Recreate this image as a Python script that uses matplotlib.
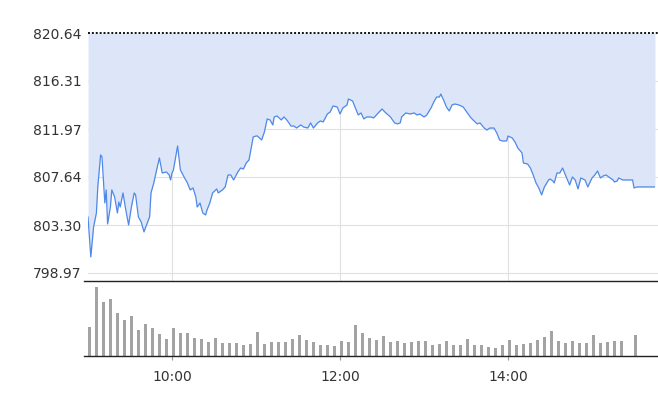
import matplotlib
matplotlib.use("Agg")
import matplotlib.pyplot as plt

# ---- data ----
# price line: minutes after 09:00 and index value
line_minutes = [0, 2, 4, 6, 7, 9, 10, 11, 12, 13, 14, 16, 17, 19, 21, 22, 23, 25, 27, 29,
                31, 33, 34, 36, 38, 40, 41, 44, 45, 47, 49, 51, 53, 56, 58, 59, 60, 61, 64, 66,
                69, 71, 73, 75, 77, 78, 80, 82, 84, 85, 87, 89, 92, 93, 96, 98, 100, 102, 104, 107,
                109, 111, 113, 115, 118, 120, 121, 124, 126, 128, 130, 132, 133, 135, 138, 140, 142, 145, 147, 149,
                152, 154, 157, 159, 161, 164, 166, 168, 171, 173, 175, 178, 180, 182, 185, 186, 189, 191, 193, 195,
                197, 199, 202, 204, 208, 210, 212, 216, 219, 221, 223, 224, 227, 230, 233, 235, 237, 240, 242, 245,
                247, 249, 251, 252, 254, 256, 258, 260, 262, 265, 268, 271, 273, 275, 278, 280, 283, 285, 287, 290,
                292, 294, 296, 299, 300, 303, 305, 307, 310, 311, 314, 316, 318, 320, 322, 324, 326, 329, 330, 332,
                333, 335, 337, 339, 341, 344, 346, 348, 350, 352, 355, 357, 360, 362, 364, 366, 368, 370, 373, 375,
                376, 378, 379, 382, 386, 389, 390, 392, 405]
line_values = [804.03, 800.42, 803.13, 804.39, 806.74, 809.63, 809.45, 807.37, 805.29, 806.47,
               803.40, 804.93, 806.47, 805.84, 804.39, 805.38, 804.93, 806.20, 804.66, 803.31,
               804.93, 806.20, 806.02, 804.03, 803.58, 802.68, 803.04, 804.03, 806.20, 807.10,
               808.27, 809.36, 808.00, 808.09, 807.82, 807.37, 808.00, 808.27, 810.44, 808.27,
               807.55, 807.10, 806.47, 806.65, 805.84, 804.93, 805.29, 804.39, 804.21, 804.66,
               805.29, 806.20, 806.56, 806.20, 806.47, 806.74, 807.82, 807.82, 807.37, 808.09,
               808.45, 808.36, 808.90, 809.18, 811.25, 811.34, 811.34, 810.98, 811.70, 812.88,
               812.79, 812.34, 813.06, 813.15, 812.79, 813.06, 812.79, 812.24, 812.24, 812.06,
               812.34, 812.15, 812.06, 812.52, 812.06, 812.52, 812.70, 812.61, 813.33, 813.51,
               814.05, 813.96, 813.33, 813.87, 814.14, 814.68, 814.50, 813.87, 813.24, 813.42,
               812.88, 813.06, 813.06, 812.97, 813.51, 813.78, 813.51, 813.06, 812.52, 812.43,
               812.52, 813.06, 813.42, 813.33, 813.42, 813.24, 813.33, 813.06, 813.24, 813.87,
               814.41, 814.86, 814.86, 815.13, 814.59, 813.96, 813.60, 814.14, 814.23, 814.14,
               813.96, 813.42, 813.06, 812.79, 812.43, 812.52, 812.06, 811.88, 812.06, 812.06,
               811.61, 810.98, 810.89, 810.89, 811.34, 811.16, 810.80, 810.26, 809.81, 808.90,
               808.81, 808.45, 807.82, 807.10, 806.65, 806.02, 806.74, 807.37, 807.46, 807.28,
               807.10, 808.00, 808.00, 808.45, 807.82, 806.92, 807.64, 807.37, 806.56, 807.55,
               807.37, 806.74, 807.55, 807.82, 808.18, 807.55, 807.73, 807.82, 807.55, 807.37,
               807.19, 807.28, 807.55, 807.37, 807.37, 807.37, 806.65, 806.74, 806.74]

# volume: 5-minute bars
vol_times = ["09:00", "09:05", "09:10", "09:15", "09:20", "09:25", "09:30", "09:35", "09:40", "09:45",
             "09:50", "09:55", "10:00", "10:05", "10:10", "10:15", "10:20", "10:25", "10:30", "10:35",
             "10:40", "10:45", "10:50", "10:55", "11:00", "11:05", "11:10", "11:15", "11:20", "11:25",
             "11:30", "11:35", "11:40", "11:45", "11:50", "11:55", "12:00", "12:05", "12:10", "12:15",
             "12:20", "12:25", "12:30", "12:35", "12:40", "12:45", "12:50", "12:55", "13:00", "13:05",
             "13:10", "13:15", "13:20", "13:25", "13:30", "13:35", "13:40", "13:45", "13:50", "13:55",
             "14:00", "14:05", "14:10", "14:15", "14:20", "14:25", "14:30", "14:35", "14:40", "14:45",
             "14:50", "14:55", "15:00", "15:05", "15:10", "15:15", "15:20", "15:30"]
vol_values = [29.3, 68.7, 53.7, 56.7, 42.7, 35.7, 39.7, 25.7, 31.7, 27.7,
              21.7, 16.7, 27.7, 22.7, 22.7, 17.7, 16.7, 13.7, 17.7, 12.7,
              12.7, 12.7, 10.7, 11.7, 23.7, 11.7, 13.7, 14.3, 14.3, 17.3,
              21.3, 16.3, 14.3, 11.3, 11.3, 10.3, 15.3, 14.3, 31.3, 23.3,
              18.3, 16.3, 20.3, 14.3, 15.3, 13.3, 14.3, 15.3, 15.3, 11.3,
              12.3, 15.3, 11.3, 11.3, 17.3, 11.3, 11.3, 9.3, 8.3, 11.3,
              16.3, 11.3, 12.3, 13.3, 16.3, 19.3, 25.3, 15.3, 13.3, 15.3,
              13.3, 13.3, 21.3, 13.3, 14.3, 15.3, 15.3, 21.3]

y_ticks = [820.64, 816.31, 811.97, 807.64, 803.30, 798.97]
y_tick_labels = ["820.64", "816.31", "811.97", "807.64", "803.30", "798.97"]
x_tick_labels = ["10:00", "12:00", "14:00"]


def to_min(s):
    h, m = s.split(":")
    return (int(h) - 9) * 60 + int(m)


vol_minutes = [to_min(s) for s in vol_times]
x_ticks = [to_min(s) for s in x_tick_labels]

# ---- figure ----
W, H = 658, 408
fig = plt.figure(figsize=(W / 100, H / 100), dpi=100)
plt.rcParams['font.family'] = ['DejaVu Sans']

L, R = 88, 655
ax = fig.add_axes([L / W, 1 - 281 / H, (R - L) / W, (281 - 33) / H])
axv = fig.add_axes([L / W, 1 - 356 / H, (R - L) / W, (356 - 281) / H])

xmax = 405
step = (y_ticks[0] - y_ticks[-1]) / 5
ybot = y_ticks[-1] - step * 8 / 48
ytop = y_ticks[0]

ax.set_xlim(0, xmax)
ax.set_ylim(ybot, ytop)
for s in ax.spines.values():
    s.set_visible(False)

grid_c = '#e0e0e0'
ext = (658 - L) / (R - L)
for yv in y_ticks[1:]:
    ax.axhline(yv, xmin=0, xmax=ext, color=grid_c, lw=0.8, zorder=1, clip_on=False)
for xv in x_ticks:
    ax.axvline(xv, color=grid_c, lw=0.8, zorder=1)

ax.fill_between(line_minutes, line_values, ytop, color='#dce6f8', lw=0, zorder=2)
ax.plot(line_minutes, line_values, color='#4f89e8', lw=0.9, zorder=3)
ax.axhline(ytop, xmin=0, xmax=ext, color='#111111', lw=1.4, ls=(0, (1, 1)),
           zorder=4, clip_on=False)

ax.set_yticks(y_ticks)
ax.set_yticklabels(y_tick_labels)
ax.set_xticks([])
ax.tick_params(axis='y', length=0, pad=4.5, labelsize=10, labelcolor='#333333')

# volume panel
axv.set_xlim(0, xmax)
axv.set_ylim(0, 75)
for s in axv.spines.values():
    s.set_visible(False)
axv.bar(vol_minutes, vol_values, width=1.9, align='edge', color='#a3a3a3', lw=0, zorder=2)
lft = (84 - L) / (R - L)
axv.axhline(0, xmin=lft, xmax=ext, color='#222222', lw=1.0, clip_on=False, zorder=3)
axv.axhline(75, xmin=lft, xmax=ext, color='#222222', lw=1.0, clip_on=False, zorder=3)
axv.set_yticks([])
axv.set_xticks(x_ticks)
axv.set_xticklabels(x_tick_labels)
axv.tick_params(axis='x', length=3, width=0.8, color='#999999', pad=7,
                labelsize=10, labelcolor='#333333')

fig.savefig("out.png", dpi=100)
